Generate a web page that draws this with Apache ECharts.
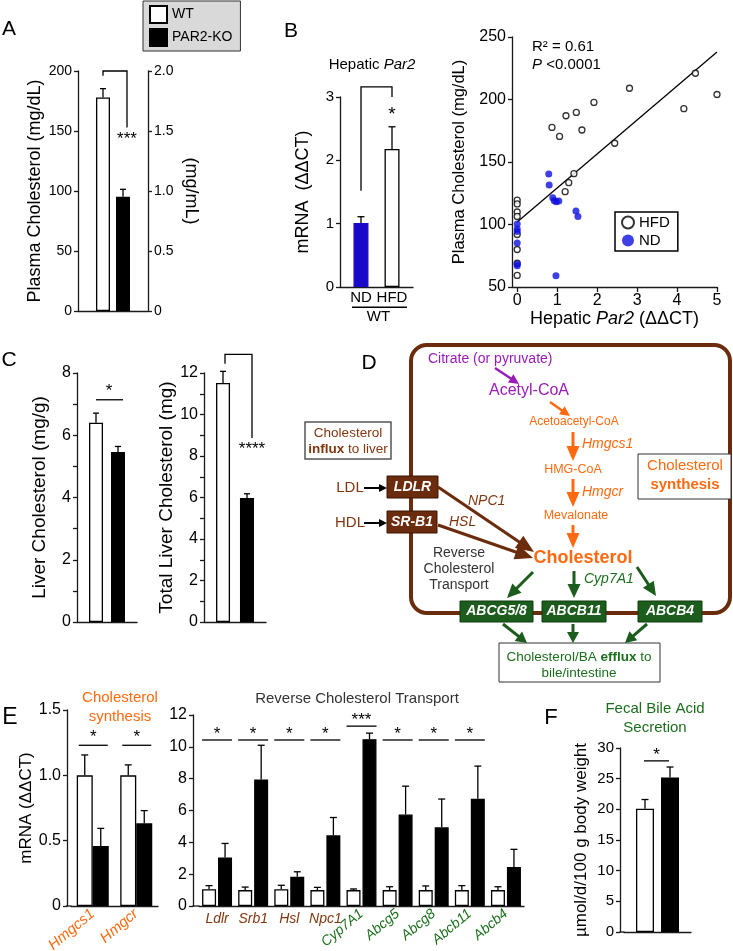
<!DOCTYPE html>
<html><head><meta charset="utf-8">
<script src="https://cdn.jsdelivr.net/npm/echarts@6/dist/echarts.min.js"></script>
<style>html,body{margin:0;padding:0;background:#fff}#c{width:733px;height:951px}</style>
</head><body><div id="c"></div>
<script>
// ---------------- DATA ----------------
// Panel A: plasma cholesterol (mg/dL)
const groups = ['WT', 'PAR2-KO'];
const aMean = [178, 95.3];
const aErrTop = [185.3, 101.4];
// Panel B: hepatic Par2 mRNA
const bCats = ['ND', 'HFD'];
const bMean = [1.01, 2.18];
const bErrTop = [1.11, 2.53];
// Panel B scatter: [Par2 ddCT, plasma cholesterol]
const hfdPts = [[0,119.5],[0,116.5],[0,110],[0,106.5],[0,92],[0,80],[0,69],[0,59.3],
  [0.87,177.7],[1.06,170.5],[1.22,187],[1.48,189.7],[1.62,175.6],[1.92,197.7],[2.44,165],
  [2.81,209],[4.17,192.7],[4.46,221],[5.0,204],[1.42,140.7],[1.29,133.5],[1.20,126.3]];
const ndPts = [[0,100.5],[0,96.5],[0,94.5],[0,85.2],[0,68.5],[0,67],[0.79,140.5],[0.80,131.6],
  [0.89,121.5],[0.93,119],[0.98,118.3],[1.04,118.8],[1.47,110.8],[1.52,106.5],[0.97,59.1]];
const fitLine = [[0, 102], [5, 238]];
// Panel C
const cLiverMean = [6.4, 5.46], cLiverErrTop = [6.71, 5.64];
const cTotalMean = [11.52, 5.98], cTotalErrTop = [12.08, 6.18];
// Panel E
const eSynCats = ['Hmgcs1', 'Hmgcr'];
const eSynWT = [1.0, 1.0], eSynWTErr = [1.156, 1.08];
const eSynKO = [0.46, 0.633], eSynKOErr = [0.594, 0.73];
const eRctCats = ['Ldlr','Srb1','Hsl','Npc1','Cyp7A1','Abcg5','Abcg8','Abcb11','Abcb4'];
const eRctWT = [1.05,1.0,1.05,1.0,1.0,1.0,1.0,1.0,1.0];
const eRctWTErr = [1.28,1.19,1.3,1.17,1.07,1.21,1.26,1.28,1.21];
const eRctKO = [3.05,7.95,1.84,4.44,10.48,5.75,4.94,6.74,2.45];
const eRctKOErr = [3.93,10.1,2.15,5.56,10.86,7.53,6.72,8.79,3.56];
const eRctSig = ['*','*','*','*','***','*','*','*',''];
// Panel F
const fMean = [20.1, 25.2], fErrTop = [21.6, 26.9];

// ---------------- STYLE ----------------
const FF = '"Liberation Sans", Arial, Helvetica, sans-serif';
const AX = '#1a1a1a';
const ORANGE = '#ff6a10', BROWN = '#6b2c0d', BROWN_T = '#82360f', GREEN = '#1c5c1c', GREEN_T = '#1b6e1b';
const PURPLE = '#9a1cb8', BLUE = '#0f0fe0', BLUE_BAR = '#1a08c8';

const chart = echarts.init(document.getElementById('c'), null, {renderer: 'canvas', width: 733, height: 951});

function grid(l, t, w, h) { return {left: l, top: t, width: w, height: h, containLabel: false, outerBoundsMode: 'none'}; }
const grids = [
  grid(78, 71, 70, 240),    // 0 A
  grid(340, 97, 73, 190),   // 1 B bar
  grid(512, 37, 205, 250),  // 2 B scatter
  grid(77, 373, 60, 249),   // 3 C left
  grid(204, 373, 62, 249),  // 4 C right
  grid(71, 710, 87, 196),   // 5 E left
  grid(199, 715, 325, 191), // 6 E right
  grid(624, 748, 67, 184)   // 7 F
];

function catX(gi, data, o) {
  o = o || {};
  return {type: 'category', gridIndex: gi, data: data, position: 'bottom',
    axisLine: {show: o.line !== false, onZero: false, lineStyle: {color: AX, width: 1.3}},
    axisTick: {show: false},
    axisLabel: Object.assign({show: !!o.label, interval: 0, fontFamily: FF}, o.label || {}),
    splitLine: {show: false}};
}
function valY(gi, min, max, interval, o) {
  o = o || {};
  return {type: 'value', gridIndex: gi, min: min, max: max, interval: interval,
    position: o.position || 'left', offset: o.offset || 0,
    name: o.name || '', nameLocation: 'middle', nameGap: o.nameGap || 30,
    nameRotate: o.nameRotate == null ? 90 : o.nameRotate,
    nameTextStyle: {fontSize: o.nameSize || 18, fontFamily: FF, color: '#000'},
    axisLine: {show: true, onZero: false, lineStyle: {color: AX, width: 1.3}},
    axisTick: {show: true, length: 4, inside: false, lineStyle: {color: AX, width: 1.3}},
    axisLabel: {show: true, fontSize: o.labelSize || 14, fontFamily: FF, color: '#000', margin: o.margin || 6, formatter: o.fmt},
    splitLine: {show: false}};
}
const evenOnly = v => (v % 2 === 0 ? String(v) : '');
const oneDec = v => (v === 0 ? '0' : v.toFixed(1));

const xAxes = [
  catX(0, ['']),
  catX(1, ['WT']),
  {type: 'value', gridIndex: 2, min: -0.13, max: 5,
    name: 'Hepatic {i|Par2} (ΔΔCT)', nameLocation: 'middle', nameGap: 22,
    nameTextStyle: {fontSize: 18, fontFamily: FF, color: '#000', rich: {i: {fontSize: 18, fontFamily: FF, fontStyle: 'italic', color: '#000'}}},
    axisLine: {show: true, onZero: false, lineStyle: {color: AX, width: 1.3}},
    axisTick: {show: true, length: 5, customValues: [0,1,2,3,4,5], lineStyle: {color: AX, width: 1.3}},
    axisLabel: {fontSize: 16, fontFamily: FF, color: '#000', margin: 6, customValues: [0,1,2,3,4,5]},
    splitLine: {show: false}},
  catX(3, ['']),
  catX(4, ['']),
  catX(5, eSynCats, {label: {rotate: 40, margin: 6, fontSize: 15, fontStyle: 'italic', color: ORANGE}}),
  catX(6, eRctCats, {label: {margin: 6, fontSize: 14, fontStyle: 'italic', color: BROWN_T,
    formatter: (v, i) => (i < 4 ? v : '')}}),
  catX(6, eRctCats, {line: false, label: {rotate: 40, margin: 6, fontSize: 14, fontStyle: 'italic', color: GREEN_T,
    formatter: (v, i) => (i >= 4 ? v : '')}}),
  catX(7, [''])
];
const yAxes = [
  valY(0, 0, 200, 50, {name: 'Plasma Cholesterol (mg/dL)', nameGap: 34, labelSize: 14}),
  valY(0, 0, 2, 0.5, {position: 'right', name: '(mg/mL)', nameRotate: -90, nameGap: 34, labelSize: 14, fmt: oneDec}),
  valY(1, 0, 3, 1, {name: 'mRNA  (ΔΔCT)', nameGap: 28, labelSize: 15}),
  valY(2, 50, 250, 50, {name: 'Plasma Cholesterol (mg/dL)', nameGap: 44, nameSize: 16.5, labelSize: 16}),
  valY(3, 0, 8, 1, {name: 'Liver Cholesterol (mg/g)', nameGap: 28, nameSize: 19, labelSize: 16, fmt: evenOnly}),
  valY(4, 0, 12, 1, {name: 'Total Liver Cholesterol (mg)', nameGap: 24, nameSize: 19, labelSize: 16, fmt: evenOnly}),
  valY(5, 0, 1.5, 0.5, {name: 'mRNA (ΔΔCT)', nameGap: 26, nameSize: 17, labelSize: 16, offset: 4, fmt: oneDec}),
  valY(6, 0, 12, 2, {labelSize: 16, offset: 6}),
  valY(7, 0, 30, 5, {name: 'µmol/d/100 g body weight', nameGap: 30, nameSize: 17, labelSize: 15, offset: 4})
];

function bars(xi, yi, name, data, color, bw, gap, border) {
  return {type: 'bar', name: name, xAxisIndex: xi, yAxisIndex: yi, data: data, barWidth: bw, barGap: gap, z: 3,
    itemStyle: {color: color, borderColor: border || '#000', borderWidth: 1.3}, emphasis: {disabled: true}};
}
// rows: [category, mean, errTop, slot(-0.5 WT / +0.5 KO)]
function errS(xi, yi, rows, spacing, cap) {
  return {type: 'custom', xAxisIndex: xi, yAxisIndex: yi, silent: true, z: 4, encode: {x: 0, y: [1, 2]},
    data: rows,
    renderItem: function (p, api) {
      const c = api.value(0), m = api.value(1), e = api.value(2), s = api.value(3);
      const a = api.coord([c, m]), b = api.coord([c, e]);
      const x = a[0] + s * spacing;
      return {type: 'group', children: [
        {type: 'line', shape: {x1: x, y1: a[1], x2: x, y2: b[1]}, style: {stroke: '#000', lineWidth: 1.3}},
        {type: 'line', shape: {x1: x - cap, y1: b[1], x2: x + cap, y2: b[1]}, style: {stroke: '#000', lineWidth: 1.3}}
      ]};
    }};
}
function rows(means, errs, slot) { return means.map((m, i) => [i, m, errs[i], slot]); }
// annotation points: [category, slot, value, pixelTweak]
function annS(xi, yi, items, spacing) {
  return {type: 'custom', xAxisIndex: xi, yAxisIndex: yi, silent: true, z: 6, encode: {x: 0, y: 1},
    data: items.map(it => [0, (it.pts ? it.pts[0] : it.at)[2]]),
    renderItem: function (p, api) {
      const it = items[p.dataIndex];
      const P = q => { const a = api.coord([q[0], q[2]]); return [a[0] + q[1] * spacing + (q[3] || 0), a[1]]; };
      if (it.pts) return {type: 'polyline', shape: {points: it.pts.map(P)},
        style: {stroke: '#000', lineWidth: it.lw || 1.3, fill: null}};
      const a = P(it.at);
      return {type: 'text', x: a[0], y: a[1], style: {text: it.text, fill: '#000', fontSize: it.size || 17, fontFamily: FF,
        align: 'center', verticalAlign: 'middle', textAlign: 'center', textVerticalAlign: 'middle'}};
    }};
}

const eRctAnn = [];
eRctSig.forEach((s, i) => {
  if (!s) return;
  const y = s === '***' ? 11.3 : 10.43;
  eRctAnn.push({pts: [[i, 0, y, -15], [i, 0, y, 15]]});
  eRctAnn.push({at: [i, 0, y + 0.35], text: s, size: 17});
});

const series = [
  // A
  bars(0, 0, 'WT', [aMean[0]], '#fff', 14, '43%'),
  bars(0, 0, 'PAR2-KO', [aMean[1]], '#000', 14, '43%'),
  errS(0, 0, [[0, aMean[0], aErrTop[0], -0.5], [0, aMean[1], aErrTop[1], 0.5]], 20, 3),
  annS(0, 0, [{pts: [[0, -0.5, 196], [0, -0.5, 200], [0, 0.5, 200, 4], [0, 0.5, 153, 4]]},
              {at: [0, 0.5, 143, 4], text: '***'}], 20),
  // B bar
  bars(1, 2, 'ND (bar)', [bMean[0]], BLUE_BAR, 15, '107%', BLUE_BAR),
  bars(1, 2, 'HFD (bar)', [bMean[1]], '#fff', 15, '107%'),
  errS(1, 2, [[0, bMean[0], bErrTop[0], -0.5], [0, bMean[1], bErrTop[1], 0.5]], 31, 3.5),
  annS(1, 2, [{pts: [[0, -0.5, 1.52], [0, -0.5, 3.16], [0, 0.5, 3.16], [0, 0.5, 3.0]]},
              {at: [0, 0.5, 2.72], text: '*', size: 19},
              {at: [0, -0.5, -0.17], text: bCats[0], size: 15},
              {at: [0, 0.5, -0.17], text: bCats[1], size: 15},
              {pts: [[0, -0.5, -0.32, -9], [0, 0.5, -0.32, 15]], lw: 1.5},
              {at: [0, 0, -0.47, 2], text: 'WT', size: 15}], 31),
  // B scatter
  {type: 'line', xAxisIndex: 2, yAxisIndex: 3, data: fitLine, symbol: 'none', showSymbol: false,
    lineStyle: {color: '#000', width: 1.3}, z: 2, silent: true},
  {type: 'scatter', name: 'HFD', xAxisIndex: 2, yAxisIndex: 3, data: hfdPts, symbol: 'circle', symbolSize: 6,
    itemStyle: {color: '#fff', borderColor: '#000', borderWidth: 1.3}, z: 3},
  {type: 'scatter', name: 'ND', xAxisIndex: 2, yAxisIndex: 3, data: ndPts, symbol: 'circle', symbolSize: 7,
    itemStyle: {color: BLUE}, z: 4},
  // C left
  bars(3, 4, 'WT', [cLiverMean[0]], '#fff', 14, '57%'),
  bars(3, 4, 'PAR2-KO', [cLiverMean[1]], '#000', 14, '57%'),
  errS(3, 4, [[0, cLiverMean[0], cLiverErrTop[0], -0.5], [0, cLiverMean[1], cLiverErrTop[1], 0.5]], 22, 3),
  annS(3, 4, [{pts: [[0, -0.5, 7.14, 0], [0, 0.5, 7.14, 5]]}, {at: [0, 0, 7.42, 2], text: '*'}], 22),
  // C right
  bars(4, 5, 'WT', [cTotalMean[0]], '#fff', 14, '71%'),
  bars(4, 5, 'PAR2-KO', [cTotalMean[1]], '#000', 14, '71%'),
  errS(4, 5, [[0, cTotalMean[0], cTotalErrTop[0], -0.5], [0, cTotalMean[1], cTotalErrTop[1], 0.5]], 24, 3),
  annS(4, 5, [{pts: [[0, -0.5, 12.45, 2], [0, -0.5, 12.9, 2], [0, 0.5, 12.9, 5], [0, 0.5, 8.87, 5]]},
              {at: [0, 0.5, 8.3, 5], text: '****'}], 24),
  // E left
  bars(5, 6, 'WT', eSynWT, '#fff', 16, '0%'),
  bars(5, 6, 'PAR2-KO', eSynKO, '#000', 16, '0%'),
  errS(5, 6, rows(eSynWT, eSynWTErr, -0.5).concat(rows(eSynKO, eSynKOErr, 0.5)), 16, 3.5),
  annS(5, 6, [{pts: [[0, 0, 1.23, -14], [0, 0, 1.23, 15]]}, {at: [0, 0, 1.29, 0.5], text: '*'},
              {pts: [[1, 0, 1.23, -14], [1, 0, 1.23, 15]]}, {at: [1, 0, 1.29, 0.5], text: '*'}], 16),
  // E right
  bars(6, 7, 'WT', eRctWT, '#fff', 14, '14%'),
  bars(6, 7, 'PAR2-KO', eRctKO, '#000', 14, '14%'),
  errS(6, 7, rows(eRctWT, eRctWTErr, -0.5).concat(rows(eRctKO, eRctKOErr, 0.5)), 16, 3.5),
  annS(6, 7, eRctAnn, 16),
  // F
  bars(8, 8, 'WT', [fMean[0]], '#fff', 18, '39%'),
  bars(8, 8, 'PAR2-KO', [fMean[1]], '#000', 18, '39%'),
  errS(8, 8, [[0, fMean[0], fErrTop[0], -0.5], [0, fMean[1], fErrTop[1], 0.5]], 25, 3.5),
  annS(8, 8, [{pts: [[0, -0.5, 27.9, -1], [0, 0.5, 27.9, -1]]}, {at: [0, 0, 28.75, -1], text: '*'}], 25)
];

// ---------------- GRAPHIC (titles, diagram D) ----------------
const G = [];
function txt(x, y, text, o) {
  o = o || {};
  const st = {text: text, fill: o.color || '#000', fontSize: o.size || 14, fontFamily: FF,
    fontWeight: o.weight || 'normal', fontStyle: o.style || 'normal',
    align: o.align || 'center', verticalAlign: 'middle', textAlign: o.align || 'center', textVerticalAlign: 'middle'};
  if (o.rich) st.rich = o.rich;
  G.push({type: 'text', x: x, y: y, z: 30, silent: true, style: st});
}
function rect(x, y, w, h, fill, stroke, lw, r) {
  G.push({type: 'rect', z: 20, silent: true, shape: {x: x, y: y, width: w, height: h, r: r || 0},
    style: {fill: fill, stroke: stroke, lineWidth: lw}});
}
function line(x1, y1, x2, y2, color, lw) {
  G.push({type: 'line', z: 20, silent: true, shape: {x1: x1, y1: y1, x2: x2, y2: y2}, style: {stroke: color, lineWidth: lw}});
}
function arrow(x1, y1, x2, y2, color, lw, hl, hw) {
  const dx = x2 - x1, dy = y2 - y1, L = Math.hypot(dx, dy), ux = dx / L, uy = dy / L;
  const bx = x2 - ux * hl, by = y2 - uy * hl, nx = -uy, ny = ux;
  line(x1, y1, bx + ux * 2, by + uy * 2, color, lw);
  G.push({type: 'polygon', z: 21, silent: true,
    shape: {points: [[x2, y2], [bx + nx * hw / 2, by + ny * hw / 2], [bx - nx * hw / 2, by - ny * hw / 2]]},
    style: {fill: color}});
}

// panel letters
txt(9, 29, 'A', {size: 21});
txt(291, 31, 'B', {size: 21});
txt(9, 360, 'C', {size: 21});
txt(369, 363, 'D', {size: 21});
txt(10, 718, 'E', {size: 23});
txt(551, 718, 'F', {size: 22});
// corner fillers (axis lines meeting)
line(66, 906, 71.5, 906, AX, 1.3);
line(192.5, 906, 199.5, 906, AX, 1.3);
line(619.5, 932, 624.5, 932, AX, 1.3);
// panel titles
txt(372, 65, 'Hepatic {i|Par2}', {size: 15, rich: {i: {fontStyle: 'italic', fontSize: 15, fontFamily: FF, fill: '#000'}}});
txt(532, 47, 'R² = 0.61', {size: 15, align: 'left'});
txt(532, 65, '{i|P} <0.0001', {size: 15, align: 'left', rich: {i: {fontStyle: 'italic', fontSize: 15, fontFamily: FF, fill: '#000'}}});
txt(120, 698, 'Cholesterol', {size: 15, color: ORANGE});
txt(120, 717, 'synthesis', {size: 15, color: ORANGE});
txt(357, 699, 'Reverse Cholesterol Transport', {size: 15, color: '#333'});
txt(655, 709, 'Fecal Bile Acid', {size: 15, color: GREEN_T});
txt(655, 728, 'Secretion', {size: 15, color: GREEN_T});

// ---- Diagram D ----
G.push({type: 'rect', z: 19, silent: true, shape: {x: 411, y: 345, width: 319, height: 268, r: 16},
  style: {fill: 'none', stroke: BROWN, lineWidth: 4}});
txt(428, 359, 'Citrate (or pyruvate)', {size: 14, color: PURPLE, align: 'left'});
arrow(495, 368, 519, 384, PURPLE, 2.5, 10, 10);
txt(529, 391, 'Acetyl-CoA', {size: 16, color: PURPLE});
arrow(550, 402, 570, 416, ORANGE, 2.5, 10, 10);
txt(574, 422, 'Acetoacetyl-CoA', {size: 12, color: ORANGE});
arrow(573, 432, 573, 461, ORANGE, 3, 15, 13);
txt(582, 444, 'Hmgcs1', {size: 14, color: ORANGE, style: 'italic', align: 'left'});
txt(573, 470, 'HMG-CoA', {size: 12.5, color: ORANGE});
arrow(573, 479, 573, 507, ORANGE, 3, 15, 13);
txt(582, 492, 'Hmgcr', {size: 14, color: ORANGE, style: 'italic', align: 'left'});
txt(576, 516, 'Mevalonate', {size: 12.5, color: ORANGE});
arrow(573, 525, 573, 548, ORANGE, 3, 15, 13);
txt(583, 558, 'Cholesterol', {size: 18, color: ORANGE, weight: 'bold'});
rect(638, 454, 93, 45, '#fff', '#333', 1);
txt(685, 466, 'Cholesterol', {size: 15, color: ORANGE});
txt(685, 485, 'synthesis', {size: 15, color: ORANGE, weight: 'bold'});
rect(305, 422, 86, 37, '#fff', '#555', 1.5);
txt(348, 433, 'Cholesterol', {size: 13.5, color: BROWN_T});
txt(348, 449, '{b|influx} to liver', {size: 13.5, color: BROWN_T,
  rich: {b: {fontWeight: 'bold', fontSize: 13.5, fontFamily: FF, fill: BROWN_T}}});
txt(350, 488, 'LDL', {size: 15, color: BROWN_T});
arrow(364, 488, 387, 488, '#000', 2, 8, 8);
rect(387, 476, 51, 22, BROWN, '#3a1505', 1);
txt(412.5, 487, 'LDLR', {size: 14, color: '#fff', weight: 'bold', style: 'italic'});
txt(350, 523, 'HDL', {size: 15, color: BROWN_T});
arrow(364, 523, 387, 523, '#000', 2, 8, 8);
rect(387, 511, 50, 22, BROWN, '#3a1505', 1);
txt(412, 522, 'SR-B1', {size: 14, color: '#fff', weight: 'bold', style: 'italic'});
arrow(438, 487, 534, 552, BROWN, 3, 18, 15);
arrow(438, 525, 533, 558, BROWN, 3, 18, 15);
txt(468, 501, 'NPC1', {size: 14, color: BROWN_T, style: 'italic', align: 'left'});
txt(449, 522, 'HSL', {size: 14, color: BROWN_T, style: 'italic', align: 'left'});
txt(459, 553, 'Reverse', {size: 14, color: '#333'});
txt(459, 569, 'Cholesterol', {size: 14, color: '#333'});
txt(459, 585, 'Transport', {size: 14, color: '#333'});
arrow(533, 572, 507, 598, GREEN, 3, 14, 13);
arrow(574, 571, 574, 598, GREEN, 3, 14, 13);
arrow(637, 567, 656, 596, GREEN, 3, 14, 13);
txt(584, 579, 'Cyp7A1', {size: 14, color: GREEN_T, style: 'italic', align: 'left'});
rect(460, 601, 73, 21, GREEN, '#0e3a0e', 1);
rect(542, 601, 64, 21, GREEN, '#0e3a0e', 1);
rect(638, 601, 64, 21, GREEN, '#0e3a0e', 1);
txt(496.5, 611.5, 'ABCG5/8', {size: 14, color: '#fff', weight: 'bold', style: 'italic'});
txt(574, 611.5, 'ABCB11', {size: 14, color: '#fff', weight: 'bold', style: 'italic'});
txt(670, 611.5, 'ABCB4', {size: 14, color: '#fff', weight: 'bold', style: 'italic'});
arrow(503, 624, 527, 643, GREEN, 3, 11, 12);
arrow(573, 624, 573, 643, GREEN, 3, 11, 12);
arrow(647, 624, 625, 643, GREEN, 3, 11, 12);
rect(499, 643, 161, 39, '#fff', '#333', 1);
txt(579, 657, 'Cholesterol/BA {b|efflux} to', {size: 13.5, color: GREEN_T,
  rich: {b: {fontWeight: 'bold', fontSize: 13.5, fontFamily: FF, fill: GREEN_T}}});
txt(579, 673, 'bile/intestine', {size: 13.5, color: GREEN_T});

const option = {
  animation: false,
  backgroundColor: '#fff',
  textStyle: {fontFamily: FF},
  legend: [
    {data: groups, left: 143, top: 1, orient: 'vertical', icon: 'rect', itemWidth: 17, itemHeight: 17, itemGap: 4,
      padding: [4, 8, 4, 6], backgroundColor: '#d9d9d9', borderColor: '#333', borderWidth: 1, selectedMode: false,
      textStyle: {fontSize: 14, fontFamily: FF, color: '#000'}},
    {data: ['HFD', 'ND'], left: 615, top: 212, orient: 'vertical', icon: 'circle', itemWidth: 12, itemHeight: 12, itemGap: 3,
      padding: [3, 8, 3, 6], backgroundColor: '#fff', borderColor: '#000', borderWidth: 1.5, selectedMode: false,
      textStyle: {fontSize: 15, fontFamily: FF, color: '#000'}}
  ],
  grid: grids,
  xAxis: xAxes,
  yAxis: yAxes,
  series: series,
  graphic: {elements: G}
};
chart.setOption(option);
</script></body></html>
